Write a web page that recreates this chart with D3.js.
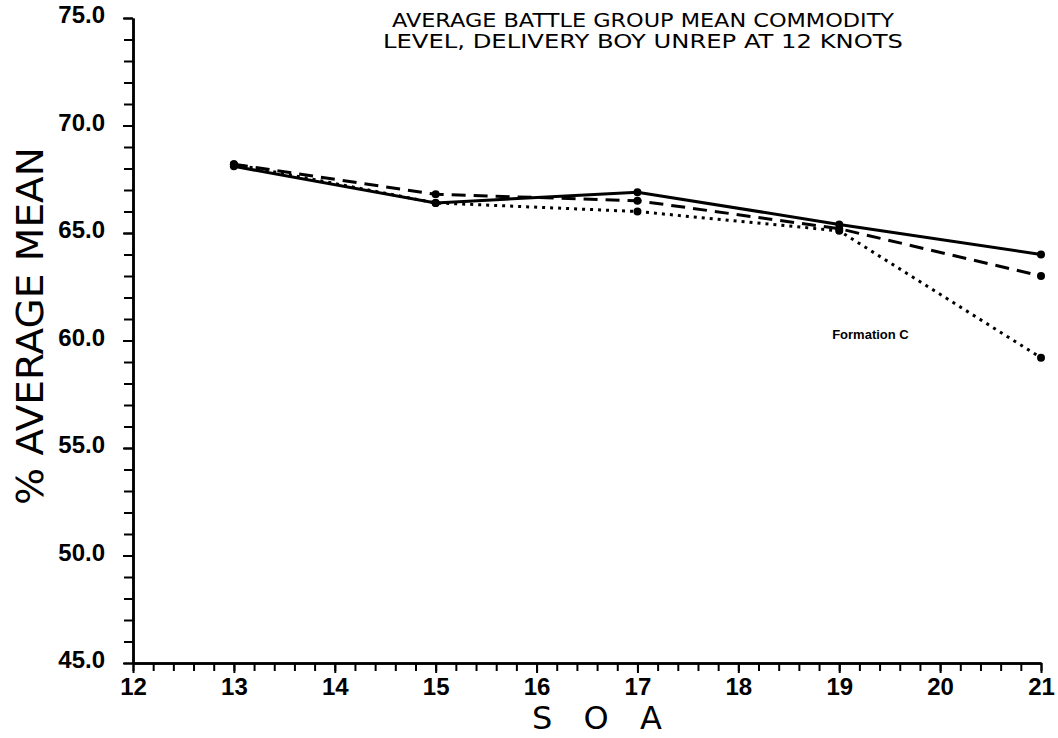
<!doctype html>
<html>
<head>
<meta charset="utf-8">
<script src="https://d3js.org/d3.v7.min.js"></script>
<style>
  body { margin: 0; background: #fff; }
  text { fill: #000; }
</style>
</head>
<body>
<div id="chart"></div>
<script>
// values
var soa = [13, 15, 17, 19, 21];
var solidSeries = [68.1, 66.4, 66.9, 65.4, 64.0];
var dashedSeries = [68.2, 66.8, 66.5, 65.2, 63.0];
var dottedSeries = [68.2, 66.4, 66.0, 65.1, 59.2];
var xMajorTicks = [12, 13, 14, 15, 16, 17, 18, 19, 20, 21];
var yMajorTicks = [45, 50, 55, 60, 65, 70, 75];
var titleLines = ["AVERAGE BATTLE GROUP MEAN COMMODITY", "LEVEL, DELIVERY BOY UNREP AT 12 KNOTS"];

var w = 1058, h = 738;

var x = d3.scaleLinear().domain([12, 21]).range([133, 1041]);
var y = d3.scaleLinear().domain([45, 75]).range([663, 18]);

var svg = d3.select("#chart").append("svg")
    .attr("width", w)
    .attr("height", h);

// minor ticks first, majors on top
var xMinor = d3.range(120, 211, 2).map(function (d) { return d / 10; });
var yMinor = d3.range(45, 76, 1);

svg.append("g")
    .attr("transform", "translate(0," + y(45) + ")")
    .call(d3.axisBottom(x).tickValues(xMinor).tickSize(8).tickFormat("").tickSizeOuter(0));

svg.append("g")
    .attr("transform", "translate(" + x(12) + ",0)")
    .call(d3.axisLeft(y).tickValues(yMinor).tickSize(9).tickFormat("").tickSizeOuter(0));

var xAxis = svg.append("g")
    .attr("class", "x axis")
    .attr("transform", "translate(0," + y(45) + ")")
    .call(d3.axisBottom(x).tickValues(xMajorTicks).tickSize(10).tickSizeOuter(0).tickPadding(3)
        .tickFormat(d3.format("d")));

var yAxis = svg.append("g")
    .attr("class", "y axis")
    .attr("transform", "translate(" + x(12) + ",0)")
    .call(d3.axisLeft(y).tickValues(yMajorTicks).tickSize(10).tickSizeOuter(0).tickPadding(18)
        .tickFormat(d3.format(".1f")));

svg.selectAll(".domain").attr("stroke", "#000").attr("stroke-width", 2.5);
svg.selectAll(".tick line").attr("stroke", "#000").attr("stroke-width", 2);
svg.selectAll(".tick text")
    .style("font-family", "'Liberation Sans', Arial, sans-serif")
    .style("font-weight", "bold")
    .style("font-size", "24px")
    .attr("fill", "#000");
xAxis.selectAll(".tick text").attr("dy", "0.78em");
yAxis.selectAll(".tick text").attr("dy", "0.2em");

// series
var series = [
    { values: solidSeries, dash: null, width: 3 },
    { values: dashedSeries, dash: "14,8", width: 3 },
    { values: dottedSeries, dash: "3,5", width: 3 }
];

var line = d3.line()
    .x(function (d) { return x(d[0]); })
    .y(function (d) { return y(d[1]); });

series.forEach(function (s) {
    var pts = soa.map(function (v, i) { return [v, s.values[i]]; });
    svg.append("path")
        .attr("d", line(pts))
        .attr("fill", "none")
        .attr("stroke", "#000")
        .attr("stroke-width", s.width)
        .attr("stroke-dasharray", s.dash);
    svg.selectAll(null)
        .data(pts)
        .enter()
        .append("circle")
        .attr("cx", function (d) { return x(d[0]); })
        .attr("cy", function (d) { return y(d[1]); })
        .attr("r", 4)
        .attr("fill", "#000");
});

// label next to the dotted line
svg.append("text")
    .attr("x", x(18.93))
    .attr("y", y(60.05))
    .style("font-family", "'Liberation Sans', Arial, sans-serif")
    .style("font-weight", "bold")
    .style("font-size", "13px")
    .text("Formation C");

// title
svg.selectAll(".title")
    .data(titleLines)
    .enter()
    .append("text")
    .attr("class", "title")
    .attr("x", 643)
    .attr("y", function (d, i) { return 27 + i * 21; })
    .attr("text-anchor", "middle")
    .attr("textLength", function (d, i) { return i === 0 ? 502 : 520; })
    .attr("lengthAdjust", "spacingAndGlyphs")
    .style("font-family", "'DejaVu Sans', sans-serif")
    .style("font-size", "19px")
    .text(function (d) { return d; });

// axis titles
svg.append("text")
    .attr("text-anchor", "middle")
    .attr("x", 597)
    .attr("y", 729)
    .attr("textLength", 130)
    .attr("lengthAdjust", "spacing")
    .style("font-family", "'DejaVu Sans', sans-serif")
    .style("font-size", "32px")
    .text("S O A");

svg.append("text")
    .attr("text-anchor", "middle")
    .attr("transform", "translate(43,326)rotate(-90)")
    .attr("textLength", 358)
    .attr("lengthAdjust", "spacingAndGlyphs")
    .style("font-family", "'DejaVu Sans', sans-serif")
    .style("font-size", "38px")
    .text("% AVERAGE MEAN");
</script>
</body>
</html>
